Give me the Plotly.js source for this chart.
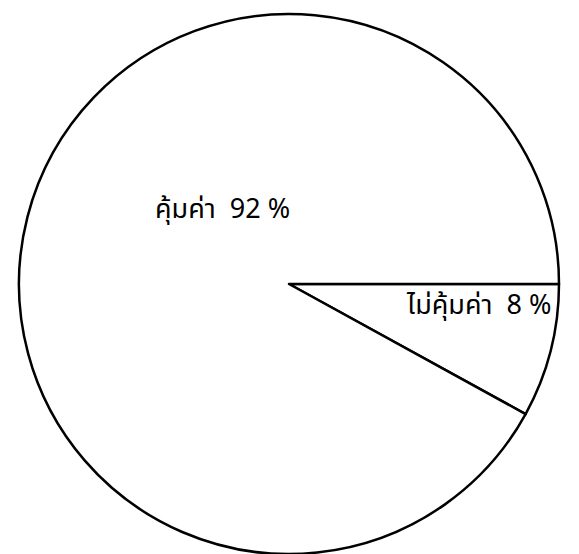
<!DOCTYPE html>
<html>
<head>
<meta charset="utf-8">
<script src="https://cdn.plot.ly/plotly-3.0.1.min.js"></script>
<style>html,body{margin:0;padding:0;background:#fff;}#chart{width:579px;height:554px;}</style>
</head>
<body>
<div id="chart"></div>
<script>
const labels = ["ไม่คุ้มค่า", "คุ้มค่า"];
const values = [8, 92];
const pctText = ["8 %", "92 %"];

const W = 579, H = 554;
const cx = 289, cyTop = 284, r = 270;
const xdom = [(cx - r) / W, (cx + r) / W];
const cyB = H - cyTop;
const ydom = [(cyB - r) / H, (cyB + r) / H];

const thaiFont = "'Tlwg Typewriter', 'Noto Sans Thai', 'Loma', 'Garuda', 'Norasi', 'DejaVu Sans', sans-serif";

const trace = {
  type: "pie",
  labels: labels,
  values: values,
  sort: false,
  direction: "clockwise",
  rotation: 90,
  textinfo: "none",
  hoverinfo: "label+percent",
  marker: { colors: ["#ffffff", "#ffffff"], line: { color: "#000000", width: 2.5 } },
  domain: { x: xdom, y: ydom },
  showlegend: false
};

const annPos = [
  { x: 404 / W, y: 1 - 305 / H },
  { x: 153 / W, y: 1 - 209 / H }
];

const layout = {
  width: W, height: H,
  margin: { l: 0, r: 0, t: 0, b: 0 },
  paper_bgcolor: "#ffffff",
  plot_bgcolor: "#ffffff",
  showlegend: false,
  annotations: labels.map((lab, i) => ({
    xref: "paper", yref: "paper",
    x: annPos[i].x, y: annPos[i].y,
    xanchor: "left", yanchor: "middle",
    text: lab + "  " + pctText[i],
    showarrow: false,
    font: { family: thaiFont, size: 27, color: "#000000" }
  }))
};

Plotly.newPlot("chart", [trace], layout, { displayModeBar: false, staticPlot: true });
</script>
</body>
</html>
